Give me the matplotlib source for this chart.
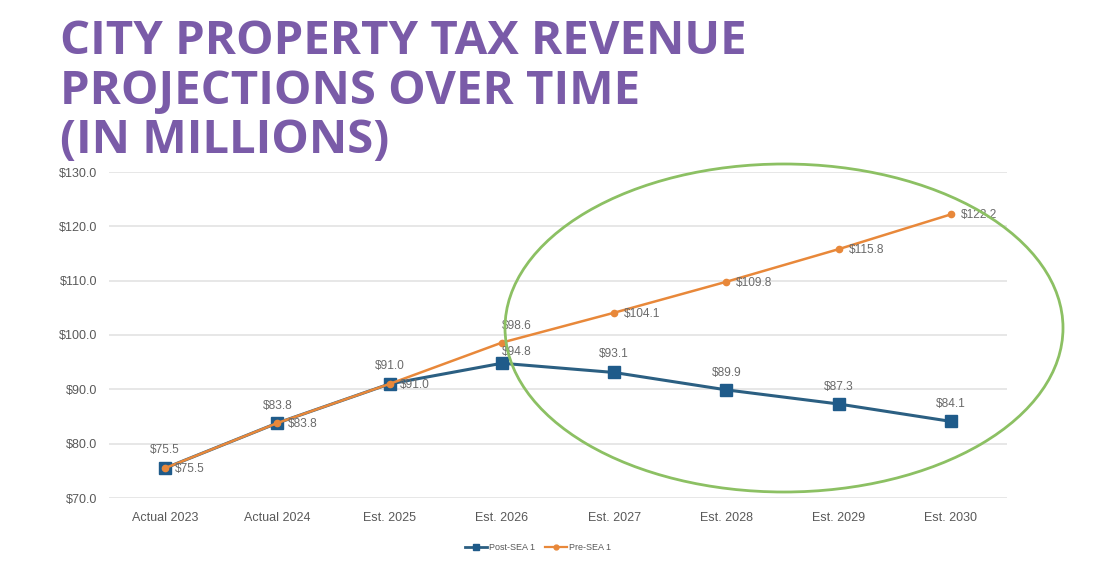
import matplotlib
matplotlib.use("Agg")
import matplotlib.pyplot as plt
from matplotlib.patches import Ellipse
from matplotlib.lines import Line2D

categories = ["Actual 2023", "Actual 2024", "Est. 2025", "Est. 2026",
              "Est. 2027", "Est. 2028", "Est. 2029", "Est. 2030"]
post_sea = [75.5, 83.8, 91.0, 94.8, 93.1, 89.9, 87.3, 84.1]
pre_sea = [75.5, 83.8, 91.0, 98.6, 104.1, 109.8, 115.8, 122.2]
yticks = [70, 80, 90, 100, 110, 120, 130]
title_lines = ["CITY PROPERTY TAX REVENUE", "PROJECTIONS OVER TIME", "(IN MILLIONS)"]

W, H = 1096, 588
fig = plt.figure(figsize=(W / 100, H / 100), dpi=100)
fig.patch.set_facecolor("white")

ax = fig.add_axes([109 / W, 1 - 498 / H, (1007 - 109) / W, (498 - 172) / H])
x = list(range(len(categories)))

blue = "#1F5B8A"
orange = "#E8883A"
gray = "#595959"
label_gray = "#6A6A6A"

ax.plot(x, post_sea, color="#2B5F82", lw=2.2, marker="s", ms=9,
        mfc=blue, mec=blue, zorder=3, label="Post-SEA 1")
ax.plot(x, pre_sea, color=orange, lw=1.8, marker="o", ms=4.5,
        mfc=orange, mec=orange, zorder=4, label="Pre-SEA 1")

ax.set_xlim(-0.5, len(categories) - 0.5)
ax.set_ylim(70, 130)
ax.set_yticks(yticks)
ax.set_yticklabels([f"${v:.1f}" for v in yticks], fontsize=9, color=gray,
                   family="Liberation Sans")
ax.set_xticks(x)
ax.set_xticklabels(categories, fontsize=9, color=gray, family="Liberation Sans")
ax.tick_params(length=0)
ax.tick_params(axis="x", pad=10)
ax.tick_params(axis="y", pad=8.5)
for s in ax.spines.values():
    s.set_visible(False)
ax.grid(axis="y", color="#E3E3E3", lw=1.2)
ax.set_axisbelow(True)

# Data labels
post_off = [(0, 18), (0, 17), (0, 18), (15, 11), (0, 18), (0, 17), (0, 17), (0, 17)]
for i, v in enumerate(post_sea):
    dx, dy = post_off[i]
    ax.annotate(f"${v:.1f}", (x[i], v), xytext=(dx, dy), textcoords="offset pixels",
                ha="center", va="center", fontsize=8.6, color=label_gray,
                family="Liberation Sans", zorder=5)
for i, v in enumerate(pre_sea):
    if i == 3:
        ax.annotate(f"${v:.1f}", (x[i], v), xytext=(15, 17), textcoords="offset pixels",
                    ha="center", va="center", fontsize=8.6, color=label_gray,
                    family="Liberation Sans", zorder=5)
    else:
        ax.annotate(f"${v:.1f}", (x[i], v), xytext=(10, -1), textcoords="offset pixels",
                    ha="left", va="center", fontsize=8.6, color=label_gray,
                    family="Liberation Sans", zorder=5)

# Legend
handles = [Line2D([], [], color="#2B5F82", lw=2, marker="s", ms=4, mfc=blue, mec=blue),
           Line2D([], [], color=orange, lw=1.6, marker="o", ms=3.5, mfc=orange, mec=orange)]
fig.legend(handles, ["Post-SEA 1", "Pre-SEA 1"], loc="center",
           bbox_to_anchor=(538 / W, 1 - 548 / H), ncol=2, frameon=False,
           labelcolor=gray, handlelength=2.4, handletextpad=0.2,
           columnspacing=1.2, prop={"family": "Liberation Sans", "size": 6.5})

# Green ellipse highlighting projections
ell = Ellipse((784 / W, 1 - 328 / H), 558 / W, 328 / H, transform=fig.transFigure,
              fill=False, ec="#8CC063", lw=2, zorder=10)
fig.add_artist(ell)

# Title
title_color = "#7A5BA8"
baselines = [54, 104, 153]
for k, line in enumerate(title_lines):
    fig.text(60 / W, 1 - baselines[k] / H, line, fontsize=34, fontweight="bold",
             family="Open Sans", color=title_color, ha="left", va="baseline")

fig.savefig("out.png", dpi=100, facecolor="white")
